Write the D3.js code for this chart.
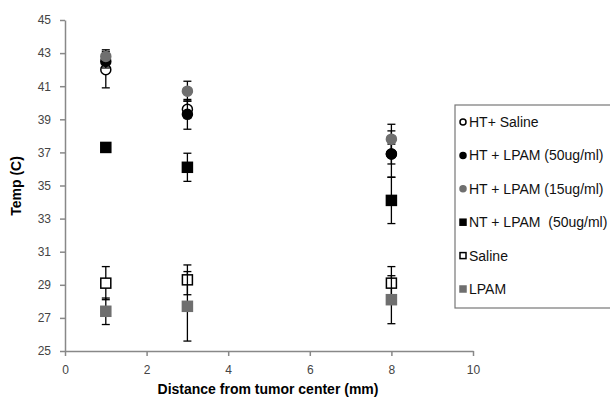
<!DOCTYPE html>
<html>
<head>
<meta charset="utf-8">
<script src="https://cdn.jsdelivr.net/npm/d3@7"></script>
<style>
  body { margin: 0; background: #fff; }
  svg { display: block; font-family: "Liberation Sans", Arial, sans-serif; }
</style>
</head>
<body>
<div id="chart"></div>
<script>
// Distances (mm) where temperature was measured
const distances = [1, 3, 8];

// Series names, in legend order
const seriesNames = [
  "HT+ Saline",
  "HT + LPAM (50ug/ml)",
  "HT + LPAM (15ug/ml)",
  "NT + LPAM  (50ug/ml)",
  "Saline",
  "LPAM"
];

// Mean temperatures (C) per series
const htSaline = [42.0, 39.6, 36.9];
const htLpam50 = [42.5, 39.3, 36.9];
const htLpam15 = [42.8, 40.7, 37.8];
const ntLpam50 = [37.3, 36.1, 34.1];
const saline = [29.1, 29.3, 29.1];
const lpam = [27.4, 27.7, 28.1];

// Error bar half-widths per series
const htSalineErr = [1.1, 0.5, 0.6];
const htLpam50Err = [0.4, 0.9, 1.4];
const htLpam15Err = [0.4, 0.6, 0.9];
const ntLpam50Err = [0.2, 0.85, 1.4];
const salineErr = [1.0, 0.9, 1.0];
const lpamErr = [0.8, 2.1, 1.45];

// Axis ticks
const xTicks = [0, 2, 4, 6, 8, 10];
const yTicks = [25, 27, 29, 31, 33, 35, 37, 39, 41, 43, 45];

const gray = "#6f6f6f";

// Marker styles for each series
const styles = [
  { shape: "circle", fill: "#fff", stroke: "#000" },
  { shape: "circle", fill: "#000", stroke: "#000" },
  { shape: "circle", fill: gray, stroke: gray },
  { shape: "square", fill: "#000", stroke: "#000" },
  { shape: "square", fill: "#fff", stroke: "#000" },
  { shape: "square", fill: gray, stroke: gray }
];

const allValues = [htSaline, htLpam50, htLpam15, ntLpam50, saline, lpam];
const allErrors = [htSalineErr, htLpam50Err, htLpam15Err, ntLpam50Err, salineErr, lpamErr];

const series = seriesNames.map((name, i) => ({
  name,
  style: styles[i],
  points: distances.map((d, j) => ({ x: d, y: allValues[i][j], e: allErrors[i][j] }))
}));

const width = 610, height = 400;

const svg = d3.select("#chart")
  .append("svg")
  .attr("width", width)
  .attr("height", height);

const xScale = d3.scaleLinear().domain([0, 10]).range([65, 473]);
const yScale = d3.scaleLinear().domain([25, 45]).range([351, 20]);

// Axes
const xAxis = svg.append("g")
  .attr("transform", `translate(0,${yScale(25)})`)
  .call(d3.axisBottom(xScale).tickValues(xTicks).tickSize(5).tickSizeOuter(0).tickPadding(9));

const yAxis = svg.append("g")
  .attr("transform", `translate(${xScale(0)},0)`)
  .call(d3.axisLeft(yScale).tickValues(yTicks).tickSize(5).tickSizeOuter(0).tickPadding(9));

[xAxis, yAxis].forEach((ax) => {
  ax.select(".domain").attr("stroke", "#888").attr("stroke-width", 1.5);
  ax.selectAll(".tick line").attr("stroke", "#888").attr("stroke-width", 1.5);
  ax.selectAll(".tick text")
    .attr("fill", "#444")
    .style("font-size", "12px")
    .style("font-family", "Liberation Sans, Arial, sans-serif");
});

// Axis titles
svg.append("text")
  .attr("x", 268)
  .attr("y", 394)
  .attr("text-anchor", "middle")
  .style("font-size", "14px")
  .style("font-weight", "bold")
  .text("Distance from tumor center (mm)");

svg.append("text")
  .attr("transform", "translate(21,186) rotate(-90)")
  .attr("text-anchor", "middle")
  .style("font-size", "14px")
  .style("font-weight", "bold")
  .text("Temp (C)");

// Draw a marker of a given style
function drawMarker(g, style, cx, cy, size) {
  if (style.shape === "circle") {
    g.append("circle")
      .attr("cx", cx).attr("cy", cy).attr("r", size / 2)
      .attr("fill", style.fill).attr("stroke", style.stroke).attr("stroke-width", 1.5);
  } else {
    g.append("rect")
      .attr("x", cx - size / 2).attr("y", cy - size / 2)
      .attr("width", size).attr("height", size)
      .attr("fill", style.fill).attr("stroke", style.stroke).attr("stroke-width", 1.5);
  }
}

// Series: error bars and markers
const plot = svg.append("g");
series.forEach((s) => {
  const g = plot.append("g");
  s.points.forEach((p) => {
    const cx = xScale(p.x);
    const top = yScale(p.y + p.e), bot = yScale(p.y - p.e);
    g.append("line").attr("x1", cx).attr("x2", cx).attr("y1", top).attr("y2", bot)
      .attr("stroke", "#000").attr("stroke-width", 1.3);
    [top, bot].forEach((yy) => {
      g.append("line").attr("x1", cx - 4).attr("x2", cx + 4).attr("y1", yy).attr("y2", yy)
        .attr("stroke", "#000").attr("stroke-width", 1.3);
    });
  });
  s.points.forEach((p) => {
    drawMarker(g, s.style, xScale(p.x), yScale(p.y), 10);
  });
});

// Legend
const legend = svg.append("g").attr("transform", "translate(455,105)");
legend.append("rect")
  .attr("width", 170).attr("height", 203)
  .attr("fill", "#fff").attr("stroke", "#777").attr("stroke-width", 1.2);

series.forEach((s, i) => {
  const row = legend.append("g").attr("transform", `translate(0,${17 + i * 33.4})`);
  drawMarker(row, s.style, 8, 0, 6);
  row.append("text")
    .attr("x", 14)
    .attr("y", 0)
    .attr("dy", "0.35em")
    .attr("fill", "#111")
    .style("font-size", "14px")
    .style("white-space", "pre")
    .text(s.name);
});
</script>
</body>
</html>
